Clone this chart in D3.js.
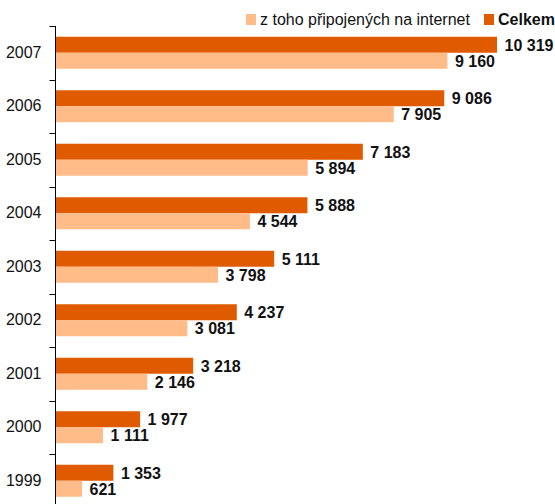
<!DOCTYPE html>
<html>
<head>
<meta charset="utf-8">
<script src="https://cdn.jsdelivr.net/npm/d3@7"></script>
<style>
html,body{margin:0;padding:0;background:#fff;}
svg{display:block;font-family:"Liberation Sans",Arial,sans-serif;}
</style>
</head>
<body>
<svg id="chart" width="555" height="504"></svg>
<script>
const years = ["2007","2006","2005","2004","2003","2002","2001","2000","1999"];
const celkem = [10319, 9086, 7183, 5888, 5111, 4237, 3218, 1977, 1353];
const internet = [9160, 7905, 5894, 4544, 3798, 3081, 2146, 1111, 621];
const seriesNames = ["Celkem", "z toho připojených na internet"];
const seriesColors = ["#e05a00", "#ffbb88"];
const legendOrder = [1, 0];

const fmt = v => d3.format(",")(v).replace(/,/g, " ");

const svg = d3.select("#chart");
const axisX = 55.5, plotTop = 26, groupH = 53.5;

const x = d3.scaleLinear().domain([0, 10319]).range([axisX, 497]);
const y = d3.scaleBand().domain(years).range([plotTop, plotTop + groupH * years.length]).padding(0);
const sub = d3.scaleBand().domain(seriesNames).range([0, y.bandwidth()]).paddingInner(0).paddingOuter(0.672);

const data = years.map((yr, i) => ({year: yr, vals: [celkem[i], internet[i]]}));

const g = svg.append("g");
const groups = g.selectAll("g.grp").data(data).enter().append("g")
  .attr("transform", d => `translate(0,${y(d.year)})`);

seriesNames.forEach((s, si) => {
  groups.append("rect")
    .attr("x", x(0))
    .attr("y", sub(s))
    .attr("width", d => x(d.vals[si]) - x(0))
    .attr("height", sub.bandwidth())
    .attr("fill", seriesColors[si]);
  groups.append("text")
    .attr("x", d => x(d.vals[si]) + 7.5)
    .attr("y", sub(s) + sub.bandwidth() / 2)
    .attr("dy", "0.36em")
    .attr("font-size", 16)
    .attr("font-weight", "bold")
    .attr("fill", "#111")
    .text(d => fmt(d.vals[si]));
});

// Axis
const axis = d3.axisLeft(y).tickSize(0).tickPadding(14);
const ag = svg.append("g").attr("transform", `translate(${axisX},0)`).call(axis);
ag.select(".domain").attr("stroke", "#000").attr("d", `M0,${plotTop}V${plotTop + groupH * years.length}`);
ag.selectAll("text").attr("font-size", 16).attr("fill", "#111").attr("font-family", "Liberation Sans, Arial, sans-serif");
// tick marks at group boundaries
const bounds = years.map(yr => y(yr)).concat([y.range()[1]]);
ag.selectAll("line.bt").data(bounds).enter().append("line")
  .attr("class", "bt")
  .attr("x1", -6).attr("x2", 0)
  .attr("y1", d => Math.round(d) + 0.5).attr("y2", d => Math.round(d) + 0.5)
  .attr("stroke", "#000");

// Legend
const legend = svg.append("g");
const lx = [246, 484];
legendOrder.forEach((si, k) => {
  legend.append("rect").attr("x", lx[k]).attr("y", 14).attr("width", 10).attr("height", 11).attr("fill", seriesColors[si]);
  legend.append("text").attr("x", lx[k] + 14).attr("y", 25)
    .attr("font-size", 16)
    .attr("font-weight", si === 0 ? "bold" : "normal")
    .attr("fill", "#111")
    .text(seriesNames[si]);
});
</script>
</body>
</html>
